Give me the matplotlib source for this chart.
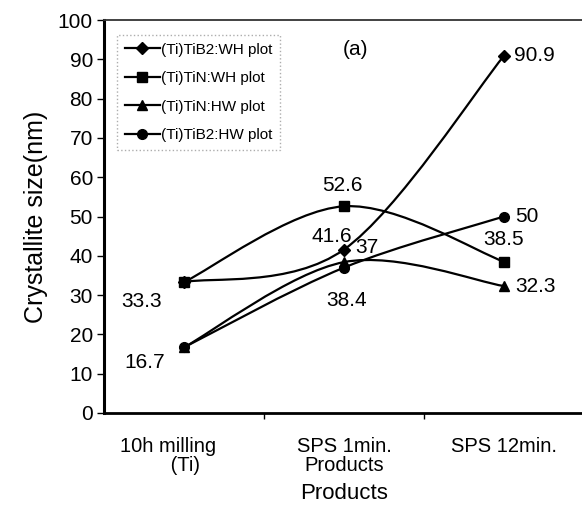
import matplotlib
matplotlib.use("Agg")
import matplotlib.pyplot as plt
import matplotlib.transforms as mtransforms
from matplotlib.path import Path
from matplotlib.patches import PathPatch
from matplotlib.lines import Line2D

plt.rcParams["font.family"] = ["Liberation Sans", "DejaVu Sans"]

categories = ["10h milling\n         (Ti)", "SPS 1min.\nProducts", "SPS 12min."]
series_names = ["(Ti)TiB2:WH plot", "(Ti)TiN:WH plot", "(Ti)TiN:HW plot", "(Ti)TiB2:HW plot"]
tib2_wh = [33.3, 41.6, 90.9]
tin_wh = [33.3, 52.6, 38.5]
tin_hw = [16.7, 38.4, 32.3]
tib2_hw = [16.7, 37.0, 50.0]
series_values = [tib2_wh, tin_wh, tin_hw, tib2_hw]
markers = ["D", "s", "^", "o"]
marker_sizes = [6.5, 7, 7.5, 7]
y_ticks = list(range(0, 101, 10))

# value labels: (series index, point index, dx px, dy px, ha)
value_labels = [
    (0, 2, 10, 0, "left"),
    (3, 2, 11, 0, "left"),
    (1, 2, 0, 22, "center"),
    (2, 2, 11, 0, "left"),
    (1, 1, -2, 21, "center"),
    (0, 1, -12, 13, "center"),
    (3, 1, 23, 20, "center"),
    (2, 1, 3, -38, "center"),
    (1, 0, -42, -19, "center"),
    (2, 0, -39, -15, "center"),
]


def smooth_path(xs, ys):
    """Cardinal (Catmull-Rom) Bezier path through the given points."""
    pts = list(zip(xs, ys))
    verts = [pts[0]]
    codes = [Path.MOVETO]
    n = len(pts)
    for i in range(n - 1):
        p0 = pts[i - 1] if i > 0 else pts[i]
        p1 = pts[i]
        p2 = pts[i + 1]
        p3 = pts[i + 2] if i + 2 < n else pts[i + 1]
        c1 = (p1[0] + (p2[0] - p0[0]) / 6, p1[1] + (p2[1] - p0[1]) / 6)
        c2 = (p2[0] - (p3[0] - p1[0]) / 6, p2[1] - (p3[1] - p1[1]) / 6)
        verts += [c1, c2, p2]
        codes += [Path.CURVE4] * 3
    return Path(verts, codes)


fig = plt.figure(figsize=(5.82, 5.07), dpi=100)
ax = fig.add_axes([104 / 582, 94 / 507, 480 / 582, 393 / 507])

x = list(range(len(categories)))
for vals, mk, ms in zip(series_values, markers, marker_sizes):
    ax.add_patch(PathPatch(smooth_path(x, vals), facecolor="none",
                           edgecolor="black", linewidth=1.6, zorder=2))
    ax.plot(x, vals, linestyle="none", marker=mk, markersize=ms,
            color="black", zorder=3)

for si, pi, dx, dy, ha in value_labels:
    v = series_values[si][pi]
    ax.annotate(f"{v:g}", (x[pi], v), xytext=(dx, dy),
                textcoords="offset pixels", ha=ha, va="center",
                fontsize=15, color="black")

ax.text(0.525, 0.924, "(a)", transform=ax.transAxes, ha="center",
        va="center", fontsize=15)

ax.set_xlim(-0.5, 2.5)
ax.set_ylim(0, 100)
ax.set_yticks(y_ticks)
ax.tick_params(axis="y", direction="out", length=5, width=1, pad=3,
               labelsize=15)
ax.set_xticks(x)
ax.set_xticklabels(categories, fontsize=14.5, linespacing=1.0)
ax.set_xticks([0.5, 1.5], minor=True)
ax.tick_params(axis="x", which="major", length=0, pad=17)
ax.tick_params(axis="x", which="minor", direction="out", length=4, width=1)

first = ax.get_xticklabels()[0]
first.set_multialignment("left")
first.set_transform(first.get_transform() +
                    mtransforms.ScaledTranslation(-16 / 100, 0, fig.dpi_scale_trans))

ax.set_ylabel("Crystallite size(nm)", fontsize=18, labelpad=7)
ax.set_xlabel("Products", fontsize=16, labelpad=6)

ax.spines["left"].set_linewidth(2.2)
ax.spines["bottom"].set_linewidth(2.0)
ax.spines["top"].set_linewidth(1.3)
ax.spines["top"].set_color("#333333")
ax.spines["right"].set_visible(False)

handles = [Line2D([], [], color="black", linewidth=1.6, marker=mk,
                  markersize=ms) for mk, ms in zip(markers, marker_sizes)]
leg = ax.legend(handles, series_names, loc="upper left",
                bbox_to_anchor=(0.027, 0.962), fontsize=11,
                handlelength=2.3, handletextpad=0.1, labelspacing=0.95,
                borderpad=0.5, borderaxespad=0, fancybox=False,
                frameon=True)
frame = leg.get_frame()
frame.set_edgecolor("#999999")
frame.set_linestyle(":")
frame.set_linewidth(1.0)

fig.savefig("out.png", dpi=100)
